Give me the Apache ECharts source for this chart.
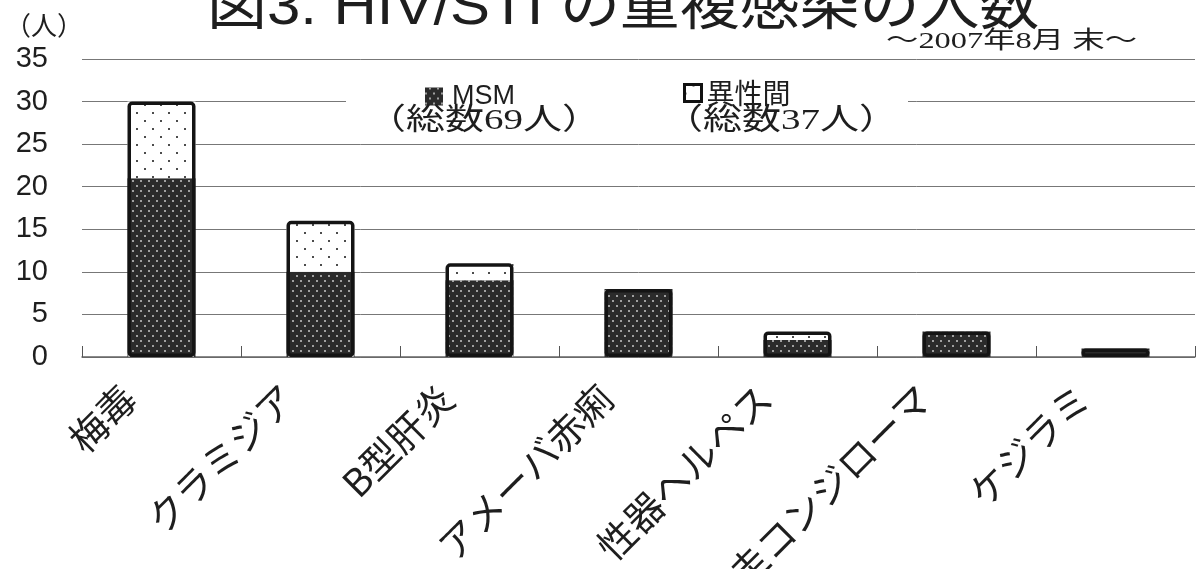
<!DOCTYPE html>
<html>
<head>
<meta charset="utf-8">
<script src="https://cdn.jsdelivr.net/npm/echarts@6/dist/echarts.min.js"></script>
<style>
  html, body { margin: 0; padding: 0; background: #fff; }
  #chart { width: 1200px; height: 569px; }
</style>
</head>
<body>
<div id="chart"></div>
<script>
// Co-infection counts among HIV patients, by STI and transmission group
const categories = ['梅毒', 'クラミジア', 'B型肝炎', 'アメーバ赤痢', '性器ヘルペス', '尖圭コンジローマ', 'ケジラミ'];
const msmValues = [21, 10, 9, 8, 2, 3, 1];
const heteroValues = [9, 6, 2, null, 1, null, null];
const seriesNames = ['MSM', '異性間'];
const groupTotals = [69, 37];
const yMin = 0, yMax = 35, yStep = 5;

const titleText = '図3. HIV/STI の重複感染の人数';
const subtitleText = '～2007年8月 末～';
const unitText = '（人）';

const CJK = '"Noto Sans CJK JP", "Noto Sans", sans-serif';
const LATIN = '"Liberation Sans", Arial, ';
const SERIF = '"Liberation Serif", ';
const INK = '#1e1e1e';

// outline of each whole stacked column
const columnTotals = msmValues.map((v, i) => v + (heteroValues[i] || 0));

const chart = echarts.init(document.getElementById('chart'), null, { renderer: 'canvas' });

chart.setOption({
  backgroundColor: '#fff',
  animation: false,
  grid: { left: 82, right: 5, top: 59, bottom: 212, containLabel: false, outerBoundsMode: 'none' },
  xAxis: {
    type: 'category',
    data: categories,
    axisLine: { lineStyle: { color: '#666', width: 1.5 } },
    axisTick: { show: true, inside: true, length: 11, lineStyle: { color: '#555', width: 1 } },
    axisLabel: {
      interval: 0,
      rotate: 45,
      margin: 2,
      padding: [0, 46, 0, 0],
      fontSize: 38,
      fontFamily: CJK,
      color: INK
    }
  },
  yAxis: {
    type: 'value',
    min: yMin,
    max: yMax,
    interval: yStep,
    axisLine: { show: false },
    axisTick: { show: false },
    splitLine: { lineStyle: { color: '#777', width: 1 } },
    axisLabel: {
      margin: 34,
      fontSize: 29,
      fontFamily: LATIN + 'sans-serif',
      color: INK
    }
  },
  legend: [
    {
      data: [seriesNames[0]],
      left: 420, top: 78,
      icon: 'rect', itemWidth: 18, itemHeight: 18, itemGap: 8,
      itemStyle: { borderWidth: 0 },
      textStyle: { fontSize: 27, fontFamily: LATIN + 'sans-serif', color: INK, padding: [0, 0, 0, 4] }
    },
    {
      data: [seriesNames[1]],
      left: 678, top: 74,
      icon: 'rect', itemWidth: 17, itemHeight: 17, itemGap: 8,
      itemStyle: { borderColor: '#111', borderWidth: 3 },
      textStyle: { fontSize: 28, fontFamily: CJK, color: INK }
    }
  ],
  graphic: [
    // white panel behind the legend (hides the grid lines there)
    { type: 'rect', z: 1, shape: { x: 346, y: 74, width: 562, height: 62 }, style: { fill: '#fff' } },
    { type: 'text', z: 5, left: 207, top: -19, scaleX: 1.07,
      style: { text: titleText, font: '56px ' + LATIN + CJK, fill: INK } },
    { type: 'text', z: 5, left: 5, top: 12,
      style: { text: unitText, font: '26px ' + CJK, fill: INK } },
    { type: 'text', z: 5, left: 886, top: 30, scaleX: 1.35,
      style: { text: subtitleText, font: '24px ' + SERIF + CJK, fill: INK } },
    { type: 'text', z: 5, left: 367, top: 106, scaleX: 1.3,
      style: { text: '（総数' + groupTotals[0] + '人）', font: '30px ' + SERIF + CJK, fill: INK } },
    { type: 'text', z: 5, left: 664, top: 106, scaleX: 1.3,
      style: { text: '（総数' + groupTotals[1] + '人）', font: '30px ' + SERIF + CJK, fill: INK } }
  ],
  series: [
    {
      name: seriesNames[0],
      type: 'bar',
      stack: 'total',
      barWidth: 68,
      barGap: '-100%',
      data: msmValues,
      itemStyle: {
        color: '#2b2b2b',
        decal: {
          symbol: 'circle',
          symbolSize: 1,
          color: '#c8c8c8',
          dashArrayX: [[2, 6], [0, 4, 2, 2]],
          dashArrayY: [2, 3]
        }
      }
    },
    {
      name: seriesNames[1],
      type: 'bar',
      stack: 'total',
      barWidth: 68,
      barGap: '-100%',
      data: heteroValues,
      itemStyle: {
        color: '#fff',
        decal: {
          symbol: 'circle',
          symbolSize: 1,
          color: '#111',
          dashArrayX: [[2, 14], [0, 8, 2, 6]],
          dashArrayY: [2, 6]
        }
      }
    },
    {
      name: 'outline',
      type: 'bar',
      barWidth: 68,
      barGap: '-100%',
      z: 3,
      silent: true,
      data: columnTotals,
      itemStyle: { color: 'rgba(0,0,0,0)', borderColor: '#141414', borderWidth: 3.5, borderRadius: 3 }
    }
  ]
});
</script>
</body>
</html>
